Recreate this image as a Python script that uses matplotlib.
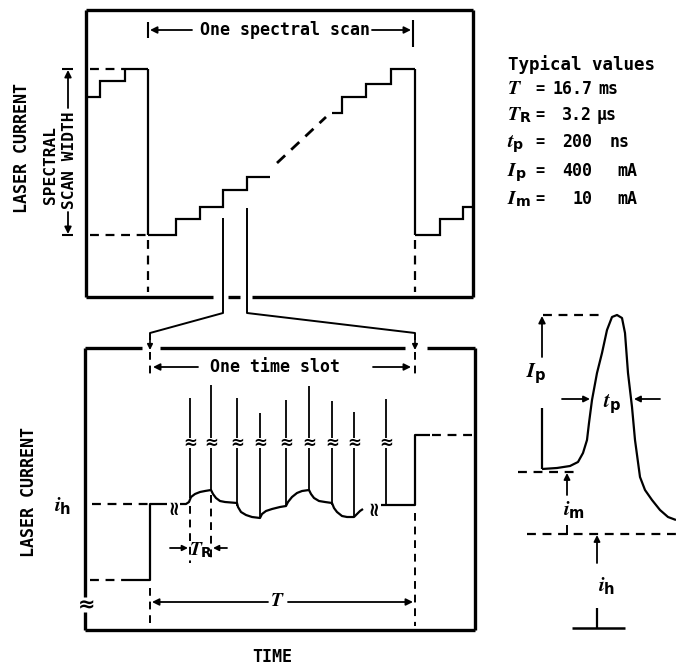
import matplotlib
matplotlib.use("Agg")
import matplotlib.pyplot as plt

plt.rcParams['font.family'] = ['DejaVu Sans Mono', 'DejaVu Sans']
plt.rcParams['font.weight'] = 'bold'
plt.rcParams['mathtext.fontset'] = 'custom'
plt.rcParams['mathtext.it'] = 'STIXGeneral:italic'
plt.rcParams['mathtext.rm'] = 'DejaVu Sans:bold'
plt.rcParams['mathtext.sf'] = 'DejaVu Sans:bold'

# ---------------- data (figure pixel units) -------------
# top panel: staircase laser current
scan_prev_edges = [86, 100, 125, 148]
scan_prev_levels = [97, 81, 69]
scan_low_edges = [148, 176, 200, 223, 247, 270]
scan_low_levels = [235, 219, 207, 190, 177]
ramp_x = [277, 326]
ramp_y = [163, 117]
scan_high_edges = [332, 342, 366, 391, 415]
scan_high_levels = [113, 97, 84, 69]
scan_next_edges = [415, 440, 463, 473]
scan_next_levels = [235, 219, 207]

# bottom panel: one time slot
train_x = [180, 186, 189, 191, 195, 200, 205, 211,
           213, 216, 220, 225, 237,
           238, 241, 246, 252, 260,
           262, 266, 272, 280, 286,
           288, 292, 297, 302, 309,
           311, 314, 319, 325, 332,
           334, 337, 342, 347, 354,
           357, 360, 363]
train_y = [504, 504, 502, 497, 494, 492, 491, 490,
           494, 498, 501, 502, 503,
           507, 512, 515, 517, 518,
           514, 511, 509, 507, 506,
           502, 497, 493, 491, 490,
           494, 498, 501, 502, 503,
           508, 512, 516, 517, 517,
           514, 511, 509]
pulse_x = [190, 211, 237, 260, 286, 309, 332, 354, 386]
pulse_top = [398, 385, 398, 413, 400, 386, 401, 412, 399]
pulse_base = [498, 490, 506, 518, 505, 491, 505, 517, 505]

# inset: single pulse shape
shape_x = [542, 557, 570, 578, 583, 587, 589, 592, 597, 602, 607, 612, 617,
           622, 625, 628, 632, 635, 640, 645, 652, 660, 668, 676]
shape_y = [469, 468, 466, 462, 453, 440, 423, 400, 373, 353, 330, 317, 315,
           318, 333, 373, 407, 440, 477, 490, 500, 510, 517, 520]

# typical values table
sym_labels = [r'$\mathit{T}$', r'$\mathit{T}_{\mathrm{R}}$', r'$\mathit{t}_{\mathrm{p}}$',
              r'$\mathit{I}_{\mathrm{p}}$', r'$\mathit{I}_{\mathrm{m}}$']
num_labels = ['16.7', '3.2', '200', '400', '10']
unit_labels = ['ms', 'µs', 'ns', 'mA', 'mA']

# ---------------- figure ----------------
fig = plt.figure(figsize=(6.76, 6.66), dpi=100)
ax = fig.add_axes([0, 0, 1, 1])
ax.set_xlim(0, 676)
ax.set_ylim(666, 0)
ax.axis('off')

K = 'black'
FR = 2.4      # frame width
WL = 1.6      # waveform width
DASH = (0, (4, 3))
FS = 12.0


def line(xs, ys, lw=WL, ls='-'):
    ax.plot(xs, ys, color=K, lw=lw, ls=ls, solid_capstyle='butt',
            dash_capstyle='butt')


def arrow(x0, y0, x1, y1, lw=1.3, ms=10):
    ax.annotate('', xy=(x1, y1), xytext=(x0, y0),
                arrowprops=dict(arrowstyle='-|>', color=K, lw=lw,
                                mutation_scale=ms, shrinkA=0, shrinkB=0))


# ---- top panel frame ----
line([86, 473], [10, 10], lw=FR)
line([86, 86], [10, 297], lw=FR)
line([473, 473], [10, 297], lw=FR)
line([86, 213], [297, 297], lw=FR)
line([228, 240], [297, 297], lw=FR)
line([252, 473], [297, 297], lw=FR)

# staircase
for e, v in [(scan_prev_edges, scan_prev_levels), (scan_low_edges, scan_low_levels),
             (scan_high_edges, scan_high_levels), (scan_next_edges, scan_next_levels)]:
    ax.stairs(v, e, baseline=None, color=K, lw=WL)
line([scan_prev_edges[-1]] * 2, [scan_prev_levels[-1], scan_low_levels[0]])
line([scan_high_edges[-1]] * 2, [scan_high_levels[-1], scan_next_levels[0]])
line(ramp_x, ramp_y, ls=DASH, lw=2.0)

# scan-width reference lines
line([90, 124], [69, 69], ls=DASH)
line([90, 146], [235, 235], ls=DASH)
line([148, 148], [240, 292], ls=DASH)
line([415, 415], [240, 292], ls=DASH)

# scan width dimension
line([62, 73], [69, 69], lw=1.5)
line([62, 73], [235, 235], lw=1.5)
arrow(68, 108, 68, 70)
arrow(68, 212, 68, 234)
ax.text(22, 148, 'LASER CURRENT', rotation=90, ha='center', va='center', fontsize=FS)
ax.text(50, 165, 'SPECTRAL', rotation=90, ha='center', va='center', fontsize=11.6)
ax.text(70, 160, 'SCAN WIDTH', rotation=90, ha='center', va='center', fontsize=11.6)

# one spectral scan
line([148, 148], [22, 38], lw=1.5)
line([413, 413], [20, 47], lw=1.5)
arrow(192, 30, 150, 30)
arrow(372, 30, 411, 30)
ax.text(285, 30, 'One spectral scan', ha='center', va='center', fontsize=FS)

# expansion lines
line([223, 223, 150, 150], [218, 313, 333, 340], lw=1.4)
line([247, 247, 415, 415], [208, 313, 333, 340], lw=1.4)
arrow(150, 338, 150, 350, lw=1.2, ms=8)
arrow(415, 338, 415, 350, lw=1.2, ms=8)

# ---- bottom panel frame ----
line([85, 142], [348, 348], lw=FR)
line([160, 405], [348, 348], lw=FR)
line([427, 475], [348, 348], lw=FR)
line([475, 475], [348, 630], lw=FR)
line([85, 85], [348, 597], lw=FR)
line([85, 85], [612, 630], lw=FR)
line([85, 475], [630, 630], lw=FR)
ax.text(87, 605, '≈', ha='center', va='center', fontsize=15, family='DejaVu Sans')

# time slot markers
line([150, 150], [352, 378], ls=DASH, lw=1.4)
line([415, 415], [352, 378], ls=DASH, lw=1.4)
line([150, 150], [588, 626], ls=DASH, lw=1.4)
line([415, 415], [513, 626], ls=DASH, lw=1.4)
arrow(198, 367, 153, 367)
arrow(373, 367, 411, 367)
ax.text(275, 367, 'One time slot', ha='center', va='center', fontsize=FS)

# waveform
line([90, 125], [580, 580], ls=DASH)
line([125, 150, 150, 167], [580, 580, 504, 504])
line([92, 148], [504, 504], ls=DASH)
line(train_x, train_y)
line([381, 415, 415, 430], [505, 505, 435, 435])
line([432, 472], [435, 435], ls=DASH)
ax.text(173, 506, '≈', rotation=90, ha='center', va='center', fontsize=14,
        family='DejaVu Sans')
ax.text(373, 507, '≈', rotation=90, ha='center', va='center', fontsize=14,
        family='DejaVu Sans')

# pulses with breaks
for px, pt, pb in zip(pulse_x, pulse_top, pulse_base):
    line([px, px], [pt, 438], lw=1.3)
    line([px, px], [448, pb], lw=1.3)
    ax.text(px, 443, '≈', ha='center', va='center', fontsize=12, family='DejaVu Sans')

# T_R dimension
line([190, 190], [506, 563], ls=DASH, lw=1.4)
line([211, 211], [495, 563], ls=DASH, lw=1.4)
arrow(170, 548, 188, 548, ms=8)
arrow(227, 548, 213, 548, ms=8)
ax.text(201, 550, r'$\mathit{T}_{\mathrm{R}}$', ha='center', va='center', fontsize=14)

# T dimension
arrow(268, 602, 152, 602)
arrow(288, 602, 413, 602)
ax.text(277, 601, r'$\mathit{T}$', ha='center', va='center', fontsize=14)

ax.text(29, 492, 'LASER CURRENT', rotation=90, ha='center', va='center', fontsize=FS)
ax.text(63, 505, r'$\mathit{i}_{\mathrm{h}}$', ha='center', va='center', fontsize=15)
ax.text(272, 657, 'TIME', ha='center', va='center', fontsize=FS)

# ---- typical values ----
ax.text(508, 70, 'Typical values', ha='left', va='baseline', fontsize=12.6)
row_base = [94, 120, 147, 176, 204]
unit_x = [598, 597, 610, 617, 617]
for s, n, u, yb, ux in zip(sym_labels, num_labels, unit_labels, row_base, unit_x):
    ax.text(507, yb, s, ha='left', va='baseline', fontsize=14.5)
    ax.text(540, yb - 1, '=', ha='center', va='baseline', fontsize=11)
    ax.text(592, yb, n, ha='right', va='baseline', fontsize=12)
    ax.text(ux, yb, u, ha='left', va='baseline', fontsize=12)

# ---- inset pulse ----
line(shape_x, shape_y, lw=1.6)
line([543, 600], [315, 315], ls=DASH)
line([542, 542], [408, 469], lw=1.6)
arrow(542, 357, 542, 316)
ax.text(536, 374, r'$\mathit{I}_{\mathrm{p}}$', ha='center', va='center', fontsize=15)
arrow(562, 399, 590, 399, ms=9)
arrow(660, 399, 634, 399, ms=9)
ax.text(612, 404, r'$\mathit{t}_{\mathrm{p}}$', ha='center', va='center', fontsize=15)
line([518, 580], [472, 472], ls=DASH)
arrow(567, 495, 567, 473, ms=9)
ax.text(574, 509, r'$\mathit{i}_{\mathrm{m}}$', ha='center', va='center', fontsize=15)
line([567, 567], [525, 535], lw=1.4)
line([527, 676], [534, 534], ls=DASH)
arrow(597, 563, 597, 535, ms=9)
ax.text(607, 586, r'$\mathit{i}_{\mathrm{h}}$', ha='center', va='center', fontsize=15)
line([597, 597], [608, 628], lw=1.6)
line([572, 625], [628, 628], lw=1.8)

fig.savefig('out.png', dpi=100)
